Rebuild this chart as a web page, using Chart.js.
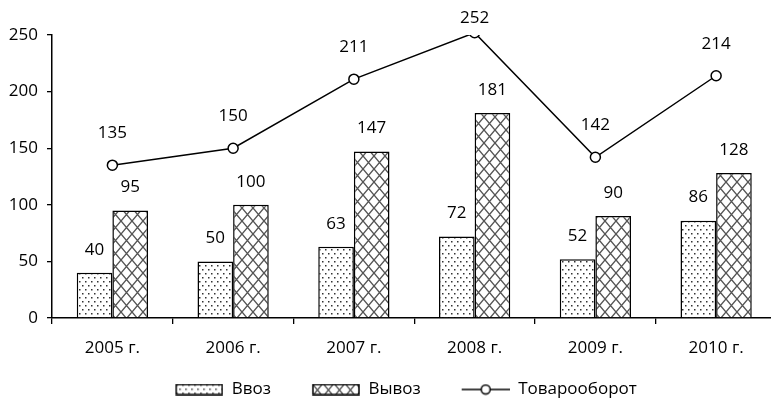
<!DOCTYPE html>
<html>
<head>
<meta charset="utf-8">
<script src="https://cdn.jsdelivr.net/npm/chart.js@4.4.1/dist/chart.umd.min.js"></script>
<style>
  html, body { margin: 0; padding: 0; background: #fff; overflow: hidden; }
  #wrap { width: 771px; height: 398px; overflow: hidden; }
</style>
</head>
<body>
<div id="wrap"><canvas id="chart" width="783" height="398"></canvas></div>
<script>
const years    = ['2005 г.', '2006 г.', '2007 г.', '2008 г.', '2009 г.', '2010 г.'];
const imports  = [40, 50, 63, 72, 52, 86];
const exports  = [95, 100, 147, 181, 90, 128];
const turnover = [135, 150, 211, 252, 142, 214];
const seriesNames = ['Ввоз', 'Вывоз', 'Товарооборот'];

const FONT = '"Open Sans", "DejaVu Sans", sans-serif';
const ICON_GAP = 29;   // blank space before each legend icon

// fill patterns like the Excel ones
function makeCanvas(w, h) {
    const c = document.createElement('canvas');
    c.width = w;
    c.height = h;
    return c;
}

function drawDots(g, w, h) {
    g.fillStyle = '#fff';
    g.fillRect(0, 0, w, h);
    g.fillStyle = '#333';
    g.fillRect(1, 1, 1.5, 1.5);
    g.fillRect(4, 5, 1.5, 1.5);
}

function drawCross(g, w, h) {
    g.fillStyle = '#fff';
    g.fillRect(0, 0, w, h);
    g.strokeStyle = '#555';
    g.lineWidth = 1.4;
    g.beginPath();
    g.moveTo(-w, -h); g.lineTo(2 * w, 2 * h);
    g.moveTo(2 * w, -h); g.lineTo(-w, 2 * h);
    g.stroke();
}

function pattern(drawFn, w, h) {
    const c = makeCanvas(w, h);
    drawFn(c.getContext('2d'), w, h);
    return c.getContext('2d').createPattern(c, 'repeat');
}

const dotFill   = pattern(drawDots, 6, 8);
const crossFill = pattern(drawCross, 11, 13);

// legend icons
function boxIcon(fill) {
    const c = makeCanvas(48 + ICON_GAP, 12);
    const g = c.getContext('2d');
    g.translate(ICON_GAP, 0);
    g.fillStyle = fill;
    g.fillRect(1, 1, 46, 10);
    g.strokeStyle = '#000';
    g.lineWidth = 1.5;
    g.strokeRect(1, 1, 46, 10);
    return c;
}

function lineIcon() {
    const c = makeCanvas(48 + ICON_GAP, 12);
    const g = c.getContext('2d');
    g.translate(ICON_GAP, 0);
    g.strokeStyle = '#000';
    g.lineWidth = 1.5;
    g.beginPath();
    g.moveTo(0, 6); g.lineTo(48, 6);
    g.stroke();
    g.fillStyle = '#fff';
    g.beginPath();
    g.arc(24, 6, 4.5, 0, Math.PI * 2);
    g.fill();
    g.stroke();
    return c;
}

const legendIcons = [boxIcon(dotFill), boxIcon(crossFill), lineIcon()];

// value labels over bars and points
const valueLabels = {
    id: 'valueLabels',
    afterDatasetsDraw(chart) {
        const ctx = chart.ctx;
        ctx.save();
        ctx.font = '17px ' + FONT;
        ctx.fillStyle = '#000';
        ctx.textAlign = 'center';
        ctx.textBaseline = 'middle';
        chart.data.datasets.forEach((ds, i) => {
            const meta = chart.getDatasetMeta(i);
            meta.data.forEach((el, j) => {
                let y = el.y - (ds.type === 'line' ? 32 : 23);
                if (y < 18) y = 18;
                ctx.fillText(ds.data[j], el.x, y);
            });
        });
        ctx.restore();
    }
};

const ctx = document.getElementById('chart').getContext('2d');
const chart = new Chart(ctx, {
    type: 'bar',
    data: {
        labels: years,
        datasets: [{
            label: seriesNames[0],
            data: imports,
            backgroundColor: dotFill,
            borderColor: '#000',
            borderWidth: 1.5,
            order: 1
        },
        {
            label: seriesNames[1],
            data: exports,
            backgroundColor: crossFill,
            borderColor: '#000',
            borderWidth: 1.5,
            order: 1
        },
        {
            type: 'line',
            label: seriesNames[2],
            data: turnover,
            borderColor: '#000',
            borderWidth: 1.5,
            pointRadius: 5,
            pointBackgroundColor: '#fff',
            pointBorderColor: '#000',
            pointBorderWidth: 1.5,
            tension: 0,
            order: 0
        }]
    },
    options: {
        responsive: false,
        animation: false,
        categoryPercentage: 0.59,
        barPercentage: 1,
        layout: {
            padding: { top: 35, right: 0, bottom: -10, left: 0 }
        },
        plugins: {
            tooltip: { enabled: false },
            legend: {
                position: 'bottom',
                labels: {
                    usePointStyle: true,
                    pointStyleWidth: 48 + ICON_GAP,
                    boxHeight: 12,
                    padding: 12,
                    color: '#000',
                    font: { family: FONT, size: 17 },
                    generateLabels: () => seriesNames.map((name, i) => ({
                        text: name,
                        pointStyle: legendIcons[i],
                        fontColor: '#000',
                        lineWidth: 0,
                        hidden: false,
                        datasetIndex: i
                    }))
                }
            }
        },
        scales: {
            x: {
                grid: { offset: true, drawOnChartArea: false, tickLength: 6, color: '#000', lineWidth: 1.3 },
                border: { color: '#000', width: 1.5 },
                ticks: { color: '#000', font: { family: FONT, size: 17 }, padding: 14, maxRotation: 0 },
                afterFit(scale) { scale.height = 51; }
            },
            y: {
                min: 0,
                max: 250,
                ticks: { stepSize: 50, color: '#000', font: { family: FONT, size: 17 }, padding: 9 },
                grid: { drawOnChartArea: false, tickLength: 5, color: '#000', lineWidth: 1.3 },
                border: { color: '#000', width: 1.5 },
                afterFit(scale) { scale.width = 52; }
            }
        }
    },
    plugins: [valueLabels]
});
</script>
</body>
</html>
